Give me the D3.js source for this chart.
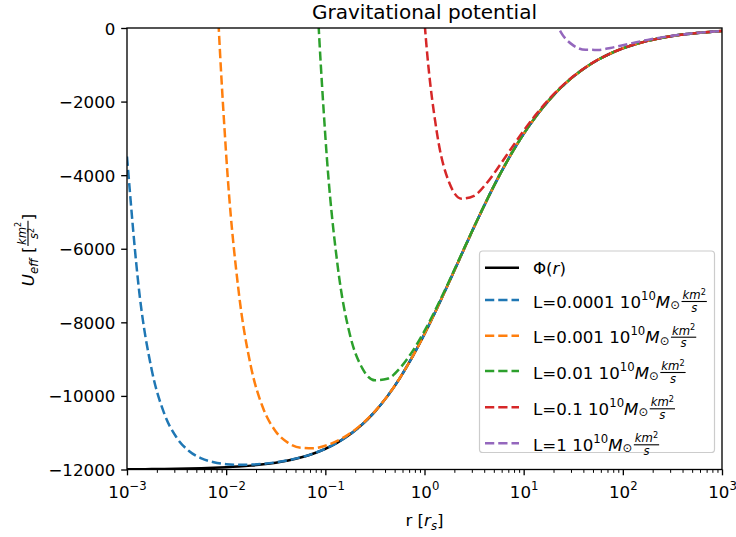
<!DOCTYPE html>
<html>
<head>
<meta charset="utf-8">
<script src="https://cdn.jsdelivr.net/npm/d3@7"></script>
<style>
  html, body { margin: 0; padding: 0; background: #fff; }
  svg { display: block; font-family: "DejaVu Sans", sans-serif; }
  text { fill: #000; white-space: pre; }
</style>
</head>
<body>
<svg id="chart" width="736" height="537"></svg>
<script>
// Radius grid in units of the scale radius r_s (log-spaced, 8 samples per decade)
const radii = [
  0.001, 0.001334, 0.001778, 0.002371, 0.003162, 0.004217, 0.005623, 0.007499,
  0.01, 0.01334, 0.01778, 0.02371, 0.03162, 0.04217, 0.05623, 0.07499,
  0.1, 0.1334, 0.1778, 0.2371, 0.3162, 0.4217, 0.5623, 0.7499,
  1, 1.334, 1.778, 2.371, 3.162, 4.217, 5.623, 7.499,
  10, 13.34, 17.78, 23.71, 31.62, 42.17, 56.23, 74.99,
  100, 133.4, 177.8, 237.1, 316.2, 421.7, 562.3, 749.9, 1000
];

// Gravitational potential Φ(r) [km²/s²]
const phi = [
  -11994.0, -11992.0, -11989.3, -11985.8, -11981.1, -11974.8, -11966.4, -11955.2,
  -11940.4, -11920.7, -11894.6, -11859.9, -11814.2, -11753.9, -11674.7, -11571.4,
  -11437.2, -11264.6, -11044.7, -10768.5, -10426.8, -10012.4, -9521.3, -8954.1,
  -8317.8, -7625.3, -6895.4, -6150.0, -5411.5, -4700.8, -4034.4, -3424.4,
  -2877.5, -2396.1, -1979.2, -1623.0, -1322.5, -1071.4, -863.6, -693.0,
  -553.8, -441.0, -350.0, -276.9, -218.6, -172.1, -135.2, -106.0, -82.9
];

// Effective potential for each angular momentum L (null = far above the plotted range)
const uEffL0001 = [
  -3494.0, -7212.1, -9301.4, -10474.3, -11131.1, -11496.8, -11697.6, -11804.0,
  -11855.4, -11872.9, -11867.7, -11844.8, -11805.7, -11749.1, -11672.0, -11569.9,
  -11436.4, -11264.1, -11044.4, -10768.4, -10426.7, -10012.4, -9521.3, -8954.1,
  -8317.8, -7625.3, -6895.4, -6150.0, -5411.5, -4700.8, -4034.4, -3424.4,
  -2877.5, -2396.1, -1979.2, -1623.0, -1322.5, -1071.4, -863.6, -693.0,
  -553.8, -441.0, -350.0, -276.9, -218.6, -172.1, -135.2, -106.0, -82.9
];
const uEffL001 = [
  null, null, null, null, null, null, 14912.6, 3159.8,
  -3440.4, -7140.8, -9206.7, -10348.4, -10964.2, -11275.9, -11405.9, -11420.2,
  -11352.2, -11216.8, -11017.8, -10753.4, -10418.3, -10007.6, -9518.6, -8952.6,
  -8317.0, -7624.8, -6895.1, -6149.9, -5411.5, -4700.8, -4034.4, -3424.4,
  -2877.5, -2396.1, -1979.2, -1623.0, -1322.5, -1071.4, -863.6, -693.0,
  -553.8, -441.0, -350.0, -276.9, -218.6, -172.1, -135.2, -106.0, -82.9
];
const uEffL01 = [
  null, null, null, null, null, null, null, null,
  null, null, null, null, null, null, 15204.3, 3543.6,
  -2937.2, -6484.7, -8356.8, -9257.0, -9576.8, -9534.4, -9252.5, -8802.9,
  -8232.8, -7577.5, -6868.5, -6134.9, -5403.0, -4696.0, -4031.7, -3422.9,
  -2876.7, -2395.6, -1978.9, -1622.9, -1322.4, -1071.4, -863.6, -693.0,
  -553.8, -441.0, -350.0, -276.9, -218.6, -172.1, -135.2, -106.0, -82.9
];
const uEffL1 = [
  null, null, null, null, null, null, null, null,
  null, null, null, null, null, null, null, null,
  null, null, null, null, null, null, 17357.7, 6160.9,
  182.2, -2845.4, -4207.5, -4638.5, -4561.5, -4222.8, -3765.6, -3273.2,
  -2792.5, -2348.3, -1952.3, -1607.9, -1314.0, -1066.6, -860.9, -691.5,
  -553.0, -440.5, -349.7, -276.8, -218.5, -172.1, -135.2, -106.0, -82.9
];
const uEffL10 = [
  null, null, null, null, null, null, null, null,
  null, null, null, null, null, null, null, null,
  null, null, null, null, null, null, null, null,
  null, null, null, null, null, null, 22844.6, 11690.6,
  5622.5, 2383.8, 708.7, -111.5, -472.5, -593.4, -594.8, -541.8,
  -468.8, -393.2, -323.1, -261.8, -210.1, -167.3, -132.5, -104.5, -82.1
];

const angularMomenta = ["0.0001", "0.001", "0.01", "0.1", "1"];
const seriesColors = ["#1f77b4", "#ff7f0e", "#2ca02c", "#d62728", "#9467bd"];
const uEffSeries = [uEffL0001, uEffL001, uEffL01, uEffL1, uEffL10];

const xTickValues = [1e-3, 1e-2, 1e-1, 1e0, 1e1, 1e2, 1e3];
const xTickExponents = ["\u22123", "\u22122", "\u22121", "0", "1", "2", "3"];
const yTickValues = [0, -2000, -4000, -6000, -8000, -10000, -12000];

// ---------------------------------------------------------------------------
const FS = 16.67;          // 10 pt
const SMALL = FS * 0.7;    // script size
const LW = 2.5;            // 1.5 pt
const DASH = "9.25,4";
const svg = d3.select("#chart");
const box = { left: 127, right: 722, top: 28, bottom: 469.5 };

const x = d3.scaleLog().domain([1e-3, 1e3]).range([box.left, box.right]);
const y = d3.scaleLinear().domain([-12000, 0]).range([box.bottom, box.top]);

svg.append("defs").append("clipPath").attr("id", "plotClip")
  .append("rect")
  .attr("x", box.left).attr("y", box.top)
  .attr("width", box.right - box.left).attr("height", box.bottom - box.top);

// Writes a row of text runs at a shared baseline, returning the advancing cursor
function mathWriter(g, x0, base) {
  let cx = x0;
  const w = {
    put(t, opt = {}) {
      const size = opt.size || FS;
      const el = g.append("text")
        .attr("x", cx).attr("y", base + (opt.dy || 0))
        .attr("text-anchor", "start")
        .attr("font-family", "DejaVu Sans")
        .attr("fill", "#000")
        .style("font-size", size + "px")
        .style("font-style", opt.it ? "italic" : "normal")
        .text(t);
      cx += el.node().getComputedTextLength();
      return w;
    },
    gap(px) { cx += px; return w; },
    frac(numRuns, denRuns) {
      const numG = g.append("g");
      const denG = g.append("g");
      const nw = mathWriter(numG, 0, base - 8.5);
      numRuns.forEach(r => nw.put(r.t, r));
      const dw = mathWriter(denG, 0, base + 4);
      denRuns.forEach(r => dw.put(r.t, r));
      const width = Math.max(nw.x, dw.x) + 3;
      numG.attr("transform", `translate(${cx + (width - nw.x) / 2},0)`);
      denG.attr("transform", `translate(${cx + (width - dw.x) / 2},0)`);
      g.append("line")
        .attr("x1", cx + 0.5).attr("x2", cx + width - 0.5)
        .attr("y1", base - 6).attr("y2", base - 6)
        .attr("stroke", "#000").attr("stroke-width", 1.1);
      cx += width;
      return w;
    },
    get x() { return cx; }
  };
  return w;
}

// ---- curves ----
const plotG = svg.append("g").attr("clip-path", "url(#plotClip)");
const line = d3.line()
  .defined(d => d[1] !== null)
  .x(d => x(d[0]))
  .y(d => y(d[1]))
  .curve(d3.curveMonotoneX);

plotG.append("path")
  .attr("d", line(radii.map((r, i) => [r, phi[i]])))
  .attr("fill", "none").attr("stroke", "#000").attr("stroke-width", LW);

uEffSeries.forEach((vals, k) => {
  plotG.append("path")
    .attr("d", line(radii.map((r, i) => [r, vals[i]])))
    .attr("fill", "none")
    .attr("stroke", seriesColors[k])
    .attr("stroke-width", LW)
    .attr("stroke-dasharray", DASH);
});

// ---- axes ----
const xAxisG = svg.append("g").attr("transform", `translate(0,${box.bottom})`)
  .call(d3.axisBottom(x).tickValues(xTickValues).tickSize(5.83).tickFormat(""));
const minorTicks = [];
for (let e = -3; e < 3; e++) for (let m = 2; m <= 9; m++) minorTicks.push(m * Math.pow(10, e));
const xMinorG = svg.append("g").attr("transform", `translate(0,${box.bottom})`)
  .call(d3.axisBottom(x).tickValues(minorTicks).tickSize(3.33).tickFormat(""));
const yAxisG = svg.append("g").attr("transform", `translate(${box.left},0)`)
  .call(d3.axisLeft(y).tickValues(yTickValues).tickSize(5.83).tickPadding(5.83)
    .tickFormat(d3.format("d")));

[xAxisG, xMinorG, yAxisG].forEach(g => {
  g.select(".domain").remove();
  g.selectAll(".tick line").attr("stroke", "#000").attr("stroke-width", 1.33);
});
xMinorG.selectAll(".tick line").attr("stroke-width", 1);
yAxisG.selectAll(".tick text")
  .attr("font-family", "DejaVu Sans").attr("font-size", FS).attr("fill", "#000")
  .attr("dy", "0.36em");

// log tick labels 10^n
xAxisG.selectAll(".tick").each(function (d, i) {
  const tg = d3.select(this).append("g");
  const w = mathWriter(tg, 0, 28.1);
  w.put("10").put(xTickExponents[i], { size: SMALL, dy: -7.6 });
  tg.attr("transform", `translate(${-w.x / 2},0)`);
});

// spines
svg.append("rect")
  .attr("x", box.left).attr("y", box.top)
  .attr("width", box.right - box.left).attr("height", box.bottom - box.top)
  .attr("fill", "none").attr("stroke", "#000").attr("stroke-width", 1.33);

// ---- title and axis labels ----
svg.append("text")
  .attr("x", (box.left + box.right) / 2).attr("y", 18.5)
  .attr("text-anchor", "middle").style("font-size", "20px")
  .text("Gravitational potential");

{
  const g = svg.append("g");
  const w = mathWriter(g, 0, 526);
  w.put("r [").put("r", { it: true }).put("s", { it: true, size: SMALL, dy: 3.8 }).put("]");
  g.attr("transform", `translate(${(box.left + box.right) / 2 - w.x / 2},0)`);
}
{
  const outer = svg.append("g").attr("transform", "translate(34,250) rotate(-90)");
  const g = outer.append("g");
  const w = mathWriter(g, 0, 0);
  w.put("U", { it: true }).put("eff", { it: true, size: SMALL, dy: 3.8 }).gap(5.3).put("[")
    .frac([{ t: "km", it: true, size: SMALL }, { t: "2", size: SMALL * 0.7, dy: -4.5 }],
          [{ t: "s", it: true, size: SMALL }, { t: "2", size: SMALL * 0.7, dy: -4.5 }])
    .put("]");
  g.attr("transform", `translate(${-w.x / 2},0)`);
}

// ---- legend ----
const legend = svg.append("g");
legend.append("rect")
  .attr("x", 479.5).attr("y", 251).attr("width", 235).attr("height", 201.5)
  .attr("rx", 3.3).attr("fill", "#fff").attr("fill-opacity", 0.8)
  .attr("stroke", "#cccccc").attr("stroke-width", 1.2);

const rowY = [267.7, 300, 335.7, 371, 407.3, 443.3];
legend.append("line")
  .attr("x1", 485).attr("x2", 519).attr("y1", rowY[0]).attr("y2", rowY[0])
  .attr("stroke", "#000").attr("stroke-width", LW);
mathWriter(legend, 533, rowY[0] + 6).put("\u03A6(").put("r", { it: true }).put(")");

angularMomenta.forEach((L, k) => {
  const yy = rowY[k + 1];
  legend.append("line")
    .attr("x1", 485).attr("x2", 519).attr("y1", yy).attr("y2", yy)
    .attr("stroke", seriesColors[k]).attr("stroke-width", LW)
    .attr("stroke-dasharray", DASH);
  mathWriter(legend, 533, yy + 7.5)
    .put(`L=${L} 10`)
    .put("10", { size: SMALL, dy: -8 })
    .put("M", { it: true })
    .put("\u2299", { size: SMALL, dy: 1.5 })
    .gap(1)
    .frac([{ t: "km", it: true, size: SMALL }, { t: "2", size: SMALL * 0.7, dy: -4.5 }],
          [{ t: "s", it: true, size: SMALL }]);
});
</script>
</body>
</html>
